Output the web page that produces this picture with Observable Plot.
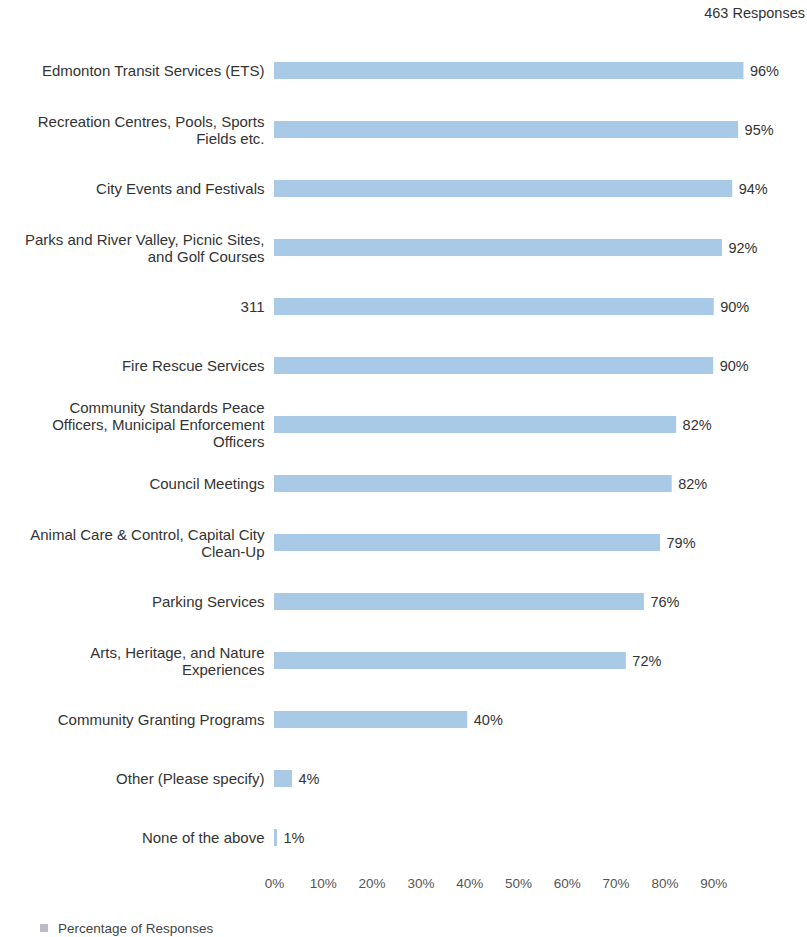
<!DOCTYPE html>
<html>
<head>
<meta charset="utf-8">
<script src="https://cdn.jsdelivr.net/npm/d3@7"></script>
<script src="https://cdn.jsdelivr.net/npm/@observablehq/plot@0.6"></script>
<style>
  body { margin: 0; background: #fff; font-family: "Liberation Sans", Arial, sans-serif; color: #333; }
  #wrap { width: 807px; }
  #top { height: 26px; line-height: 26px; font-size: 14.5px; text-align: right; padding-right: 2px; color: #333; }
  #legend { height: 18px; margin-top: 20px; font-size: 13.5px; color: #444; display: flex; align-items: center; padding-left: 40px; }
  #legend .sw { width: 8px; height: 8px; background: #b8bcc2; margin-right: 10px; }
</style>
</head>
<body>
<div id="wrap">
  <div id="top">463 Responses</div>
  <div id="chart"></div>
  <div id="legend"><span class="sw"></span><span>Percentage of Responses</span></div>
</div>
<script>
const categories = [
  "Edmonton Transit Services (ETS)",
  "Recreation Centres, Pools, Sports\nFields etc.",
  "City Events and Festivals",
  "Parks and River Valley, Picnic Sites,\nand Golf Courses",
  "311",
  "Fire Rescue Services",
  "Community Standards Peace\nOfficers, Municipal Enforcement\nOfficers",
  "Council Meetings",
  "Animal Care & Control, Capital City\nClean-Up",
  "Parking Services",
  "Arts, Heritage, and Nature\nExperiences",
  "Community Granting Programs",
  "Other (Please specify)",
  "None of the above"
];
const values = [96.2, 95.1, 93.9, 91.8, 90.1, 90.0, 82.4, 81.5, 79.1, 75.8, 72.1, 39.6, 3.7, 0.6];
const xTicks = [0, 10, 20, 30, 40, 50, 60, 70, 80, 90];
const seriesName = "Percentage of Responses";

const data = categories.map((c, i) => ({category: c, value: values[i]}));

const chart = Plot.plot({
  width: 807,
  height: 873,
  marginLeft: 274,
  marginRight: 45,
  marginTop: 14,
  marginBottom: 30,
  style: {fontFamily: "'Liberation Sans', Arial, sans-serif", fontSize: "13px", color: "#333", background: "transparent"},
  x: {domain: [0, 100], axis: null},
  y: {domain: categories, paddingInner: 0.71, paddingOuter: 0.355, axis: null},
  marks: [
    Plot.barX(data, {x: "value", y: "category", fill: "#a9cae6"}),
    Plot.text(data, {x: "value", y: "category", text: d => Math.round(d.value) + "%", textAnchor: "start", dx: 6, fill: "#333", fontSize: 14.5}),
    Plot.axisY({label: null, tickSize: 0, tickPadding: 10, fontSize: 15, fill: "#333", lineHeight: 1.13}),
    Plot.axisX({label: null, ticks: xTicks, tickFormat: d => d + "%", tickSize: 0, tickPadding: 9, fontSize: 13.5, fill: "#555"})
  ]
});
document.getElementById("chart").appendChild(chart);
</script>
</body>
</html>
